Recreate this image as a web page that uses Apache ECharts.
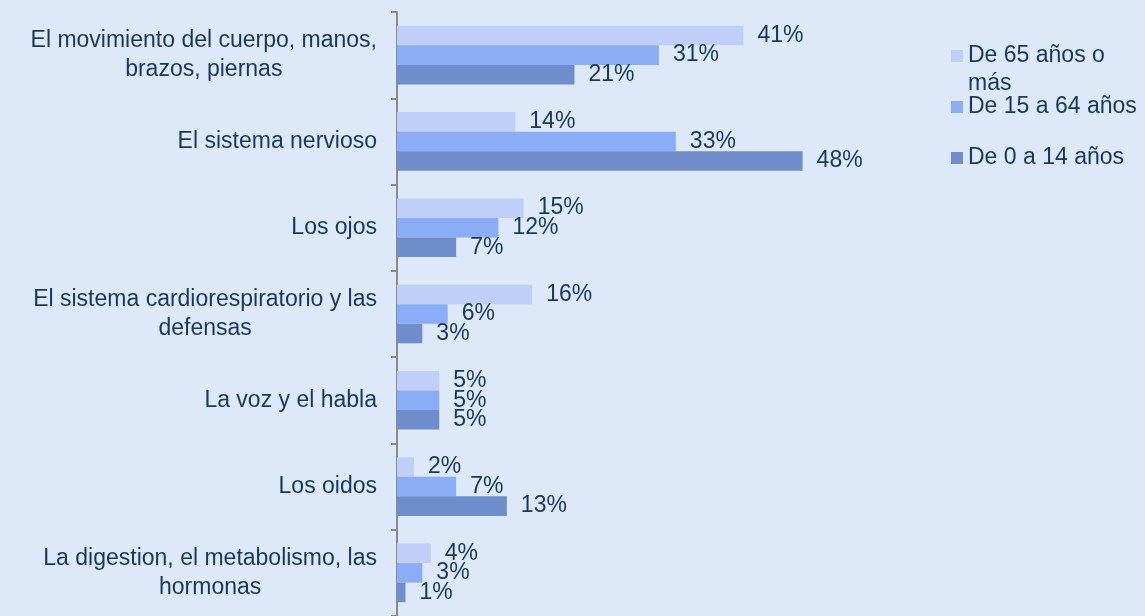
<!DOCTYPE html>
<html>
<head>
<meta charset="utf-8">
<script src="https://cdn.jsdelivr.net/npm/echarts@6/dist/echarts.min.js"></script>
<style>
  body { margin: 0; background: #dde9f9; }
  #main { width: 1145px; height: 616px; }
</style>
</head>
<body>
<div id="main"></div>
<script>
const categories = [
  'El movimiento del cuerpo, manos, brazos, piernas',
  'El sistema nervioso',
  'Los ojos',
  'El sistema cardiorespiratorio y las defensas',
  'La voz y el habla',
  'Los oidos',
  'La digestion, el metabolismo, las hormonas'
];
const seriesNames = ['De 65 años o más', 'De 15 a 64 años', 'De 0 a 14 años'];
const mayores = [41, 14, 15, 16, 5, 2, 4];
const adultos = [31, 33, 12, 6, 5, 7, 3];
const ninos = [21, 48, 7, 3, 5, 13, 1];

const textColor = '#17375e';
const font = "'Liberation Sans', Arial, sans-serif";
const fontSize = 23;
const colors = ['#bfcff8', '#8badf5', '#6f8dcb'];

// greedy word wrap by character count
function wrap(s, max) {
  const lines = [];
  let cur = '';
  s.split(' ').forEach(w => {
    if (cur && (cur + ' ' + w).length > max) {
      lines.push(cur);
      cur = w;
    } else {
      cur = cur ? cur + ' ' + w : w;
    }
  });
  if (cur) lines.push(cur);
  return lines;
}

const chart = echarts.init(document.getElementById('main'));

const barLabel = {
  show: true,
  position: 'right',
  distance: 14,
  formatter: '{c}%',
  color: textColor,
  fontSize: fontSize,
  fontFamily: font
};

const legendTops = [14, 93, 144];

chart.setOption({
  backgroundColor: '#dde9f9',
  color: colors,
  textStyle: { fontFamily: font },
  grid: { left: 397, top: 12, width: 422.5, height: 606 },
  xAxis: {
    type: 'value',
    min: 0,
    max: 50,
    show: false
  },
  yAxis: {
    type: 'category',
    inverse: true,
    data: categories,
    axisLine: { lineStyle: { color: '#8a8a8a', width: 2 } },
    axisTick: { show: true, inside: false, length: 6, lineStyle: { color: '#8a8a8a', width: 2 } },
    axisLabel: {
      margin: 20,
      formatter: v => wrap(v, 35).map(l => '{c|' + l + '}').join('\n'),
      rich: {
        c: { align: 'center', color: textColor, fontSize: fontSize, lineHeight: 29, fontFamily: font }
      }
    }
  },
  // one legend per entry so the rows can sit where the original puts them
  legend: seriesNames.map((n, i) => ({
    data: [n],
    orient: 'vertical',
    left: 951,
    top: legendTops[i],
    padding: 0,
    itemWidth: 12,
    itemHeight: 12,
    icon: 'rect',
    textStyle: { color: textColor, fontSize: fontSize, lineHeight: 28, fontFamily: font },
    // leading blank line keeps the marker next to the first text line
    formatter: name => {
      const lines = wrap(name, 15);
      return lines.length > 1 ? '\n' + lines.join('\n') : name;
    }
  })),
  series: [
    { name: seriesNames[0], type: 'bar', data: mayores, barGap: '0%', barCategoryGap: '32%', label: barLabel },
    { name: seriesNames[1], type: 'bar', data: adultos, label: barLabel },
    { name: seriesNames[2], type: 'bar', data: ninos, label: barLabel }
  ]
});
</script>
</body>
</html>
